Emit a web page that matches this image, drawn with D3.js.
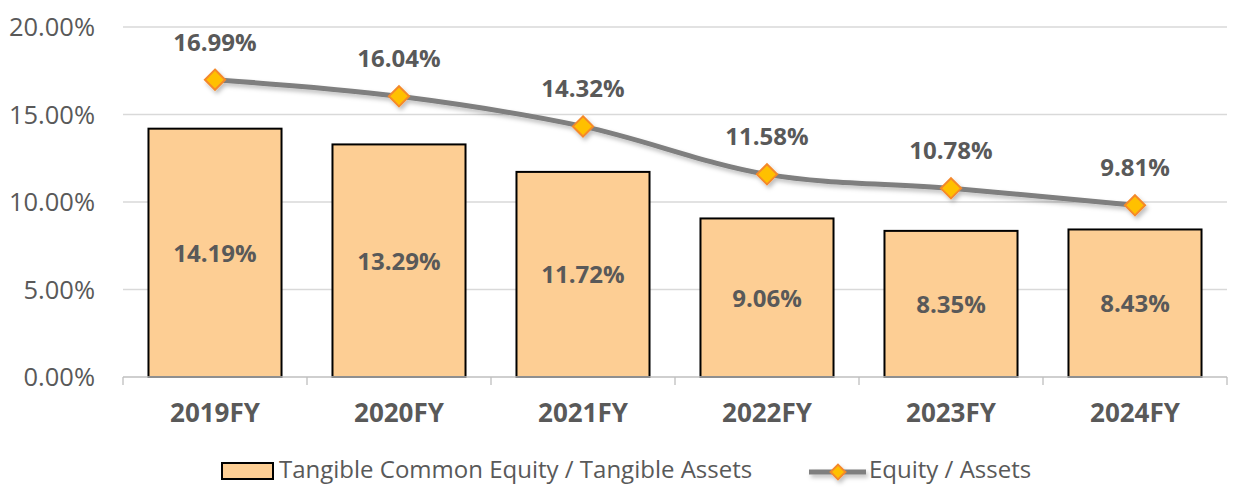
<!DOCTYPE html>
<html><head><meta charset="utf-8">
<script src="https://cdn.jsdelivr.net/npm/d3@7"></script>
<style>body{margin:0;background:#fff;font-family:"Open Sans",sans-serif;}</style>
</head><body>
<svg id="c" width="1235" height="490"></svg>
<script>
const categories = ["2019FY","2020FY","2021FY","2022FY","2023FY","2024FY"];
const tceValues = [14.19,13.29,11.72,9.06,8.35,8.43];
const eqValues = [16.99,16.04,14.32,11.58,10.78,9.81];
const yTicks = [0,5,10,15,20];
const seriesNames = ["Tangible Common Equity / Tangible Assets","Equity / Assets"];

(function(){
const svg = d3.select("#c");
const pL=123, pR=1227, pT=27, pB=377;
const x = d3.scaleBand().domain(categories).range([pL,pR]).paddingInner(0.277).paddingOuter(0.1385);
const xc = d3.scaleBand().domain(categories).range([pL,pR]);
const y = d3.scaleLinear().domain([0,20]).range([pB,pT]);

const defs = svg.append("defs");
const f = defs.append("filter").attr("id","sh").attr("x","-50%").attr("y","-50%").attr("width","200%").attr("height","200%");
f.append("feDropShadow").attr("dx",2).attr("dy",3).attr("stdDeviation",2).attr("flood-color","#000").attr("flood-opacity",0.25);

svg.append("g").selectAll("line").data(yTicks.filter(d=>d>0)).join("line")
  .attr("x1",pL).attr("x2",pR).attr("y1",d=>y(d)).attr("y2",d=>y(d))
  .attr("stroke","#d9d9d9").attr("stroke-width",1.3);
svg.append("g").selectAll("text").data(yTicks).join("text")
  .attr("x",95).attr("y",d=>y(d)+9).attr("text-anchor","end")
  .attr("font-size",25.5).attr("fill","#595959").text(d=>d.toFixed(2)+"%");

svg.append("g").selectAll("rect").data(tceValues).join("rect")
  .attr("x",(d,i)=>x(categories[i])).attr("width",x.bandwidth())
  .attr("y",d=>y(d)).attr("height",d=>pB-y(d))
  .attr("fill","#FDCE94").attr("stroke","#000").attr("stroke-width",2);

svg.append("line").attr("x1",pL).attr("x2",pR).attr("y1",pB).attr("y2",pB).attr("stroke","#bfbfbf").attr("stroke-width",1.3);
const tickXs = categories.map(c=>xc(c)).concat([pR]);
svg.append("g").selectAll("line").data(tickXs).join("line")
  .attr("x1",d=>d).attr("x2",d=>d).attr("y1",pB).attr("y2",pB+8).attr("stroke","#bfbfbf").attr("stroke-width",1.3);
svg.append("g").selectAll("text").data(categories).join("text")
  .attr("x",d=>xc(d)+xc.bandwidth()/2).attr("y",422).attr("text-anchor","middle")
  .attr("font-size",26).attr("font-weight","bold").attr("fill","#595959").text(d=>d);

svg.append("g").selectAll("text").data(tceValues).join("text")
  .attr("x",(d,i)=>xc(categories[i])+xc.bandwidth()/2).attr("y",d=>(y(d)+pB)/2+9)
  .attr("text-anchor","middle").attr("font-size",24).attr("font-weight","bold").attr("fill","#595959")
  .text(d=>d.toFixed(2)+"%");

const pts = eqValues.map((v,i)=>[xc(categories[i])+xc.bandwidth()/2,y(v)]);
const lg = svg.append("g").attr("filter","url(#sh)");
lg.append("path").attr("d",d3.line().curve(d3.curveCatmullRom.alpha(0.5))(pts))
  .attr("fill","none").attr("stroke","#7f7f7f").attr("stroke-width",5);
const diamond = d3.symbol().type(d3.symbolDiamond2).size(260);
lg.selectAll("path.m").data(pts).join("path").attr("class","m")
  .attr("transform",d=>`translate(${d[0]},${d[1]})`)
  .attr("d",diamond).attr("fill","#FFC000").attr("stroke","#F4892B").attr("stroke-width",2);

svg.append("g").selectAll("text").data(eqValues).join("text")
  .attr("x",(d,i)=>pts[i][0]).attr("y",d=>y(d)-29)
  .attr("text-anchor","middle").attr("font-size",24).attr("font-weight","bold").attr("fill","#595959")
  .text(d=>d.toFixed(2)+"%");

const leg = svg.append("g");
leg.append("rect").attr("x",222).attr("y",463).attr("width",51).attr("height",16).attr("fill","#FDCE94").attr("stroke","#000").attr("stroke-width",2);
leg.append("text").attr("x",279).attr("y",478).attr("font-size",24).attr("fill","#595959").text(seriesNames[0]);
const lg2 = leg.append("g").attr("filter","url(#sh)");
lg2.append("line").attr("x1",809).attr("x2",866).attr("y1",472).attr("y2",472).attr("stroke","#7f7f7f").attr("stroke-width",5);
lg2.append("path").attr("transform","translate(838,472)").attr("d",d3.symbol().type(d3.symbolDiamond2).size(140)).attr("fill","#FFC000").attr("stroke","#F4892B").attr("stroke-width",2);
leg.append("text").attr("x",869).attr("y",478).attr("font-size",24).attr("fill","#595959").text(seriesNames[1]);
})();
</script>
</body></html>
